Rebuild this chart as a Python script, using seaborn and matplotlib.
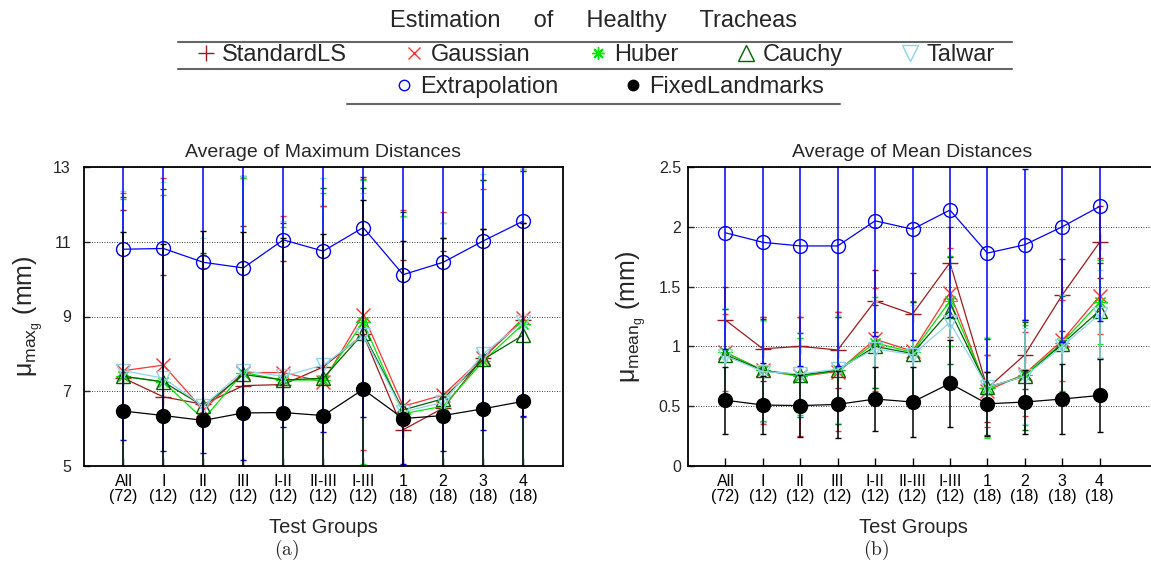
import numpy as np
import pandas as pd
import matplotlib
matplotlib.use("Agg")
import matplotlib.pyplot as plt
from matplotlib.lines import Line2D
import seaborn as sns

# ---------------- data ----------------
groups = ["All", "I", "II", "III", "I-II", "II-III", "I-III", "1", "2", "3", "4"]
counts = [72, 12, 12, 12, 12, 12, 12, 18, 18, 18, 18]
series = ["StandardLS", "Gaussian", "Huber", "Cauchy", "Talwar", "Extrapolation", "FixedLandmarks"]

# Average of maximum distances (mm)
max_standardls = [7.35, 6.85, 6.65, 7.15, 7.18, 7.65, 8.52, 5.97, 6.55, 7.90, 8.90]
max_gaussian   = [7.55, 7.70, 6.50, 7.50, 7.50, 7.25, 9.05, 6.60, 6.90, 7.90, 8.95]
max_huber      = [7.40, 7.25, 6.25, 7.50, 7.30, 7.30, 8.85, 6.40, 6.60, 7.80, 8.80]
max_cauchy     = [7.40, 7.25, 6.60, 7.45, 7.30, 7.35, 8.55, 6.50, 6.80, 7.85, 8.50]
max_talwar     = [7.55, 7.35, 6.60, 7.55, 7.40, 7.70, 8.50, 6.45, 6.70, 8.00, 8.85]
max_extrap     = [10.80, 10.82, 10.45, 10.30, 11.05, 10.75, 11.38, 10.12, 10.45, 11.02, 11.55]
max_fixed      = [6.47, 6.35, 6.22, 6.42, 6.43, 6.35, 7.05, 6.27, 6.35, 6.53, 6.73]

max_standardls_sd = [4.50, 3.25, 4.00, 4.28, 3.30, 4.30, 4.20, 4.55, 4.20, 3.45, 2.60]
max_gaussian_sd   = [4.75, 5.00, 3.80, 5.20, 4.20, 4.70, 3.63, 5.25, 4.90, 4.50, 4.00]
max_huber_sd      = [4.75, 5.00, 4.40, 5.20, 4.10, 5.00, 3.80, 5.30, 4.90, 4.85, 4.10]
max_cauchy_sd     = [4.80, 5.15, 4.10, 5.30, 4.20, 5.10, 3.90, 5.30, 4.30, 4.80, 4.40]
max_talwar_sd     = [4.80, 5.25, 4.50, 5.20, 4.15, 5.00, 3.80, 5.20, 4.80, 4.80, 4.10]
max_extrap_sd     = [5.10, 5.42, 5.10, 5.15, 5.00, 4.85, 5.08, 5.07, 5.05, 5.07, 5.20]
max_fixed_sd      = [4.78, 4.60, 5.07, 4.84, 4.67, 4.85, 5.07, 4.76, 4.76, 4.81, 4.76]

# Average of mean distances (mm)
mean_standardls = [1.22, 0.98, 1.00, 0.97, 1.38, 1.27, 1.70, 0.65, 0.93, 1.43, 1.87]
mean_gaussian   = [0.95, 0.80, 0.75, 0.79, 1.06, 0.96, 1.45, 0.63, 0.77, 1.05, 1.42]
mean_huber      = [0.95, 0.80, 0.75, 0.80, 1.03, 0.95, 1.38, 0.65, 0.76, 1.03, 1.37]
mean_cauchy     = [0.93, 0.80, 0.76, 0.80, 1.00, 0.94, 1.30, 0.66, 0.75, 1.02, 1.30]
mean_talwar     = [0.92, 0.79, 0.77, 0.81, 0.98, 0.93, 1.20, 0.66, 0.75, 1.00, 1.27]
mean_extrap     = [1.95, 1.87, 1.84, 1.84, 2.05, 1.98, 2.14, 1.78, 1.85, 2.00, 2.17]
mean_fixed      = [0.55, 0.51, 0.505, 0.515, 0.56, 0.535, 0.69, 0.52, 0.535, 0.56, 0.59]

mean_standardls_sd = [0.28, 0.27, 0.25, 0.32, 0.26, 0.34, 0.30, 0.28, 0.29, 0.30, 0.30]
mean_gaussian_sd   = [0.32, 0.45, 0.50, 0.50, 0.43, 0.42, 0.37, 0.30, 0.35, 0.34, 0.32]
mean_huber_sd      = [0.36, 0.42, 0.32, 0.45, 0.38, 0.42, 0.38, 0.42, 0.42, 0.40, 0.35]
mean_cauchy_sd     = [0.38, 0.43, 0.35, 0.45, 0.35, 0.43, 0.45, 0.40, 0.45, 0.40, 0.40]
mean_talwar_sd     = [0.40, 0.42, 0.35, 0.45, 0.40, 0.42, 0.45, 0.42, 0.40, 0.43, 0.37]
mean_extrap_sd     = [0.97, 1.01, 1.00, 1.00, 0.96, 0.93, 0.89, 0.99, 0.63, 0.96, 0.96]
mean_fixed_sd      = [0.28, 0.245, 0.26, 0.28, 0.27, 0.29, 0.365, 0.27, 0.265, 0.29, 0.305]

# ---------------- style ----------------
sns.set_style("white")
plt.rcParams["font.family"] = ["Liberation Sans", "DejaVu Sans"]
plt.rcParams["mathtext.fontset"] = "custom"
plt.rcParams["mathtext.rm"] = "Liberation Sans"
plt.rcParams["mathtext.it"] = "Liberation Sans:italic"

colors = {
    "StandardLS": "#9e1a1a",
    "Gaussian": "#ff3333",
    "Huber": "#00e600",
    "Cauchy": "#006400",
    "Talwar": "#8fd3e8",
    "Extrapolation": "#0000ff",
    "FixedLandmarks": "#000000",
}
mstyle = {
    "StandardLS": dict(marker="+", ms=12, mfc="none", mew=1.0),
    "Gaussian": dict(marker="x", ms=10, mfc="none", mew=1.0),
    "Huber": dict(marker=(8, 2, 0), ms=10, mfc="none", mew=0.8),
    "Cauchy": dict(marker="^", ms=10, mfc="none", mew=1.0),
    "Talwar": dict(marker="v", ms=10, mfc="none", mew=1.0),
    "Extrapolation": dict(marker="o", ms=10, mfc="none", mew=1.0),
    "FixedLandmarks": dict(marker="o", ms=10, mfc="#000000", mew=1.0),
}

W, H = 1151, 571
fig = plt.figure(figsize=(W / 100, H / 100), dpi=100)


def fx(px):
    return px / W


def fy(py):
    return 1 - py / H


ax1 = fig.add_axes([fx(83.5), fy(466), (563 - 83.5) / W, 299 / H])
ax2 = fig.add_axes([fx(688), fy(466), (1152 - 688) / W, 299 / H])

pos = np.arange(len(groups))
tick_labels = [f"{g}\n({n})" for g, n in zip(groups, counts)]

max_vals = [max_standardls, max_gaussian, max_huber, max_cauchy, max_talwar, max_extrap, max_fixed]
max_sds = [max_standardls_sd, max_gaussian_sd, max_huber_sd, max_cauchy_sd, max_talwar_sd, max_extrap_sd, max_fixed_sd]
mean_vals = [mean_standardls, mean_gaussian, mean_huber, mean_cauchy, mean_talwar, mean_extrap, mean_fixed]
mean_sds = [mean_standardls_sd, mean_gaussian_sd, mean_huber_sd, mean_cauchy_sd, mean_talwar_sd, mean_extrap_sd, mean_fixed_sd]


def draw(ax, vals, sds):
    for name, v, sd in zip(series, vals, sds):
        c = colors[name]
        df = pd.DataFrame({"pos": pos, "value": v})
        ax.errorbar(df["pos"], df["value"], yerr=sd, fmt="none", ecolor=c,
                    elinewidth=1.1, capsize=2.2, capthick=1.0)
        st = mstyle[name]
        sns.lineplot(data=df, x="pos", y="value", ax=ax, color=c, linewidth=0.9,
                     marker=st["marker"], markersize=st["ms"],
                     markerfacecolor=st["mfc"], markeredgecolor=c,
                     markeredgewidth=st["mew"], errorbar=None, legend=False)


draw(ax1, max_vals, max_sds)
draw(ax2, mean_vals, mean_sds)

for ax in (ax1, ax2):
    ax.set_xticks(pos)
    ax.set_xticklabels(tick_labels, fontsize=11.5, linespacing=1.0)
    ax.tick_params(axis="x", direction="in", length=6, width=1.0, bottom=True, pad=6, colors="black")
    ax.tick_params(axis="y", direction="in", length=4, width=1.0, left=True, labelsize=11.5)
    ax.yaxis.grid(True, linestyle=(0, (1, 2)), color="black", linewidth=0.6)
    ax.xaxis.grid(False)
    for s in ax.spines.values():
        s.set_color("black")
        s.set_linewidth(1.3)
        s.set_visible(True)

ax1.set_xlim(-1, 11)
ax1.set_ylim(5, 13)
ax1.set_yticks([5, 7, 9, 11, 13])
ax1.tick_params(axis="y", pad=9)
ax2.set_xlim(-1, 11.4)
ax2.set_ylim(0, 2.5)
ax2.set_yticks([0, 0.5, 1, 1.5, 2, 2.5])
ax2.set_yticklabels(["0", "0.5", "1", "1.5", "2", "2.5"])
ax2.tick_params(axis="y", pad=5)

ax1.set_title("Average of Maximum Distances", fontsize=14, pad=7)
ax2.set_title("Average of Mean Distances", fontsize=14, pad=7, x=0.483)

ax1.set_xlabel("Test Groups", fontsize=14.5)
ax2.set_xlabel("Test Groups", fontsize=14.5)
ax1.xaxis.set_label_coords(0.5, -0.175)
ax2.xaxis.set_label_coords(0.485, -0.175)

ax1.set_ylabel(r"$\mathrm{μ_{max_g}}$ (mm)", fontsize=18, va="center")
ax2.set_ylabel(r"$\mathrm{μ_{mean_g}}$ (mm)", fontsize=18, va="center")
ax1.yaxis.set_label_coords(-(83.5 - 28) / 479.5, 0.5)
ax2.yaxis.set_label_coords(-(688 - 631) / 464, 0.5)

fig.text(fx(287), fy(550), r"$\mathrm{(a)}$", ha="center", va="center", fontsize=14, math_fontfamily="cm")
fig.text(fx(876), fy(550), r"$\mathrm{(b)}$", ha="center", va="center", fontsize=14, math_fontfamily="cm")

# ---------------- legend ----------------
leg_ms = {"StandardLS": 12, "Gaussian": 9, "Huber": 9, "Cauchy": 11, "Talwar": 11,
          "Extrapolation": 7.5, "FixedLandmarks": 7.5}


def handle(name):
    st = mstyle[name]
    return Line2D([], [], linestyle="none", marker=st["marker"], markersize=leg_ms[name],
                  markerfacecolor=st["mfc"], markeredgecolor=colors[name], markeredgewidth=1.0)


fig.text(fx(594), fy(21), "Estimation     of     Healthy     Tracheas", ha="center", va="center", fontsize=17)

leg1 = fig.legend([handle(n) for n in series[:5]], series[:5], loc="center",
                  bbox_to_anchor=(fx(596), fy(55)), ncol=5, frameon=False, fontsize=17,
                  handlelength=0.7, handletextpad=0.35, columnspacing=2.5, borderpad=0,
                  borderaxespad=0)
leg2 = fig.legend([handle(n) for n in series[5:]], series[5:], loc="center",
                  bbox_to_anchor=(fx(610), fy(87)), ncol=2, frameon=False, fontsize=17,
                  handlelength=0.7, handletextpad=0.35, columnspacing=2.8, borderpad=0,
                  borderaxespad=0)

for y, x0, x1 in [(42, 178, 1012), (69, 178, 1012), (104, 347, 840)]:
    fig.add_artist(Line2D([fx(x0), fx(x1)], [fy(y), fy(y)], color="#666666", linewidth=1.5,
                          transform=fig.transFigure))

fig.savefig("out.png", dpi=100)
